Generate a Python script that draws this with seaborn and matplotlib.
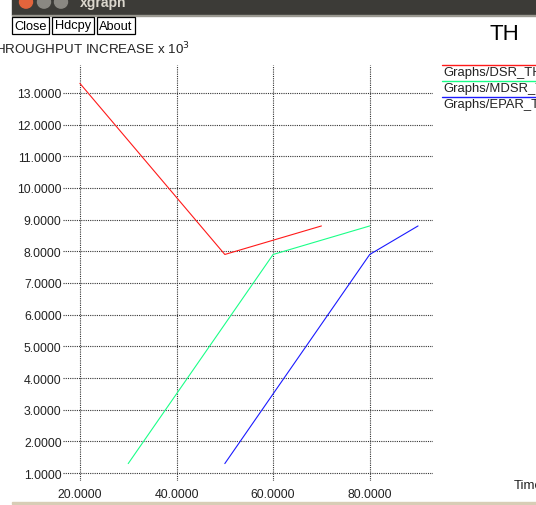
import matplotlib
matplotlib.use("Agg")
import matplotlib.pyplot as plt
from matplotlib.patches import Rectangle, Circle
from matplotlib.lines import Line2D
import pandas as pd
import seaborn as sns

# Throughput increase (x 10^3) against time for three schemes
series_names = ["Graphs/DSR_THROUGHPUT", "Graphs/MDSR_THROUGHPUT", "Graphs/EPAR_THROUGHPUT"]
dsr_time = [20, 50, 70]
dsr_value = [13.3, 7.9, 8.8]
mdsr_time = [30, 60, 80]
mdsr_value = [1.3, 7.9, 8.8]
epar_time = [50, 80, 90]
epar_value = [1.3, 7.9, 8.8]
line_colors = ["#ff1a1a", "#1aff88", "#1a1aff"]

x_ticks = [20, 40, 60, 80]
y_ticks = [1, 2, 3, 4, 5, 6, 7, 8, 9, 10, 11, 12, 13]

frames = []
for name, t, v in zip(series_names,
                      [dsr_time, mdsr_time, epar_time],
                      [dsr_value, mdsr_value, epar_value]):
    frames.append(pd.DataFrame({"time": t, "value": v, "series": name}))
df = pd.concat(frames, ignore_index=True)

sns.set_theme(style="white")
plt.rcParams["font.family"] = ["Liberation Sans", "DejaVu Sans"]

W, H = 536, 506
fig = plt.figure(figsize=(W / 100, H / 100), dpi=100)
fig.patch.set_facecolor("white")


def fx(x):
    return x / W


def fy(y):
    return 1 - y / H


# plotting area
ax = fig.add_axes([fx(63), fy(482), fx(433) - fx(63), fy(66) - fy(482)])
ax.set_facecolor("white")

sns.lineplot(data=df, x="time", y="value", hue="series", palette=line_colors,
             hue_order=series_names, sort=False, estimator=None, legend=False,
             linewidth=0.8, ax=ax, zorder=3)

ax.set_xlim(16.5, 93.1)
ax.set_ylim(0.75, 13.88)
ax.set_xticks(x_ticks)
ax.set_yticks(y_ticks)
ax.set_xticklabels([f"{v:.4f}" for v in x_ticks])
ax.set_yticklabels([f"{v:.4f}" for v in y_ticks])
ax.tick_params(axis="both", length=0, labelsize=8.8, colors="#222222")
ax.tick_params(axis="y", pad=1)
ax.tick_params(axis="x", pad=5)
ax.set_xlabel("")
ax.set_ylabel("")
for s in ax.spines.values():
    s.set_visible(False)
ax.grid(True, color="#333333", linestyle=(0, (1, 1)), linewidth=0.8)

# window title bar
fig.patches.append(Rectangle((fx(12), fy(16)), 1 - fx(12), fy(0) - fy(16),
                             transform=fig.transFigure, color="#3c3b37", zorder=1))
fig.patches.append(Rectangle((fx(12), fy(17)), 1 - fx(12), fy(16) - fy(17),
                             transform=fig.transFigure, color="#9a9890", zorder=1))
for cx, col in [(26, "#e2643c"), (44, "#8a8882"), (61, "#8a8882")]:
    fig.patches.append(Circle((fx(cx), fy(3)), 6.5 / W, transform=fig.transFigure,
                              color=col, zorder=2))
fig.text(fx(80), fy(7), "xgraph", fontsize=10, fontweight="bold", color="#dcd8ce",
         ha="left", va="baseline")

# buttons
for label, x0, x1 in [("Close", 12, 49), ("Hdcpy", 52, 94), ("About", 97, 135)]:
    fig.patches.append(Rectangle((fx(x0), fy(35)), fx(x1) - fx(x0), fy(18) - fy(35),
                                 transform=fig.transFigure, facecolor="white",
                                 edgecolor="black", linewidth=0.9, zorder=2))
    fig.text(fx((x0 + x1) / 2), fy(26.5), label, fontsize=9.2, ha="center",
             va="center", color="black")

# title and axis captions
fig.text(fx(490), fy(40), "TH", fontsize=16, ha="left", va="baseline", color="black")
fig.text(fx(190), fy(54), r"THROUGHPUT INCREASE x 10$^{3}$", fontsize=9.6,
         ha="right", va="baseline", color="#222222")
fig.text(fx(514), fy(489), "Time", fontsize=9.5, ha="left", va="baseline",
         color="#222222")

# series key
for i, (name, col) in enumerate(zip(series_names, line_colors)):
    ly = 66 + i * 16
    fig.lines.append(Line2D([fx(442), 1], [fy(ly), fy(ly)], transform=fig.transFigure,
                            color=col, linewidth=1.0))
    fig.text(fx(443), fy(ly + 10), name, fontsize=9.4, ha="left", va="baseline",
             color="#222222")

# bottom window border
fig.patches.append(Rectangle((fx(12), fy(505)), 1 - fx(12), fy(503) - fy(505),
                             transform=fig.transFigure, color="#d8cdb6", zorder=1))

fig.savefig("out.png", dpi=100)
